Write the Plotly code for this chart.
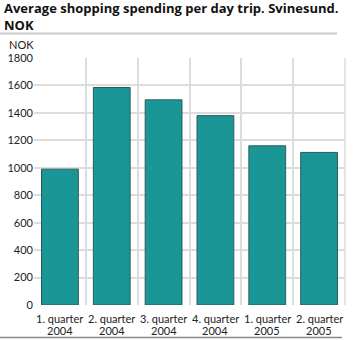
import plotly.graph_objects as go

quarters = ["1. quarter", "2. quarter", "3. quarter", "4. quarter", "1. quarter", "2. quarter"]
years = ["2004", "2004", "2004", "2004", "2005", "2005"]
categories = [q + " " + y for q, y in zip(quarters, years)]
values = [990, 1585, 1495, 1380, 1160, 1112]
y_ticks = [0, 200, 400, 600, 800, 1000, 1200, 1400, 1600, 1800]

title_lines = ["Average shopping spending per day trip. Svinesund.", "NOK"]
unit_text = "NOK"

PL, PR, PT, PB = 34, 345, 58, 305
PW, PH = PR - PL, PB - PT

def px(x):
    return (x - PL) / PW

def py(y):
    return (PB - y) / PH

fig = go.Figure()
fig.add_trace(go.Bar(
    x=categories, y=values,
    marker=dict(color="#1a9696", line=dict(color="#2b5c5c", width=1)),
    width=0.71,
))

fig.update_layout(
    width=357, height=340,
    margin=dict(l=PL, r=357 - PR, t=PT, b=340 - PB),
    paper_bgcolor="white", plot_bgcolor="white",
    font=dict(family="Lato, Open Sans, sans-serif", size=11, color="#222"),
    showlegend=False,
)
fig.update_xaxes(
    type="category", tickson="boundaries", showgrid=True, gridcolor="#dcdcdc",
    gridwidth=1.5, ticks="", showline=False, zeroline=False, tickangle=0,
    automargin=False, showticklabels=False,
)
fig.update_yaxes(
    range=[0, 1800], tickvals=y_ticks, showgrid=True, gridcolor="#dcdcdc",
    gridwidth=1.5, ticks="", showline=False, zeroline=False, automargin=False,
    tickfont=dict(size=11, color="#222"),
)
# category labels (two lines, tight spacing)
for cat, q, yr in zip(categories, quarters, years):
    fig.add_annotation(text=q, x=cat, xref="x", yref="paper", y=py(318.5),
                       yanchor="middle", showarrow=False,
                       font=dict(size=11, color="#222"))
    fig.add_annotation(text=yr, x=cat, xref="x", yref="paper", y=py(330),
                       yanchor="middle", showarrow=False,
                       font=dict(size=11, color="#222"))
# right boundary gridline
fig.add_shape(type="line", xref="paper", yref="paper", x0=1, x1=1, y0=0, y1=1,
              line=dict(color="#dcdcdc", width=1.5))
# separator under title
fig.add_shape(type="line", xref="paper", yref="paper",
              x0=px(0), x1=px(337), y0=py(33.5), y1=py(33.5),
              line=dict(color="#c8c8c8", width=2))
# bottom line
fig.add_shape(type="line", xref="paper", yref="paper",
              x0=px(0), x1=px(342), y0=py(337.5), y1=py(337.5),
              line=dict(color="#888888", width=1.5))
# title (two lines)
for line, yc in zip(title_lines, [8, 25]):
    fig.add_annotation(text="<b>" + line + "</b>", xref="paper", yref="paper",
                       x=px(2), y=py(yc), xanchor="left", yanchor="middle",
                       align="left", showarrow=False,
                       font=dict(family="Open Sans, sans-serif", size=13, color="#111"))
# unit label
fig.add_annotation(text=unit_text, xref="paper", yref="paper",
                   x=px(7), y=py(44.5), xanchor="left", yanchor="middle",
                   showarrow=False, font=dict(size=11, color="#222"))

fig.write_html("out.html")
